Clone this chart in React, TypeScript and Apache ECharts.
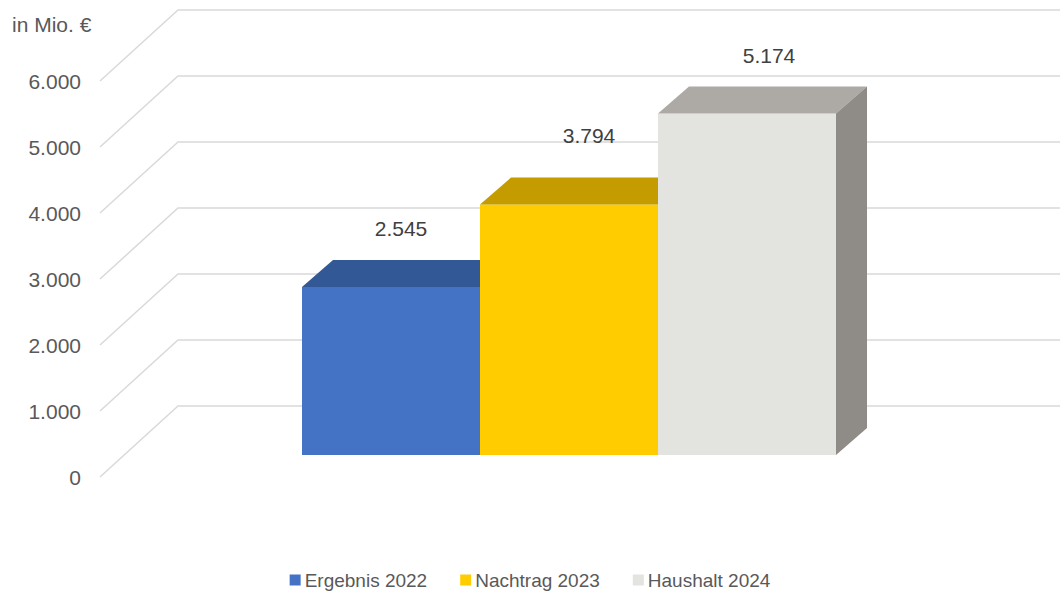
import React, { useEffect, useRef } from "react";
import * as echarts from "echarts";

const categories = ["Haushalt"];
const seriesNames = ["Ergebnis 2022", "Nachtrag 2023", "Haushalt 2024"];
const seriesValues = [2545, 3794, 5174];
const yTicks = [0, 1000, 2000, 3000, 4000, 5000, 6000];
const yMin = 0;
const yMax = 6000;
const yInterval = 1000;
const unitLabel = "in Mio. €";

const frontColors = ["#4472C4", "#FFCC00", "#E3E3DF"];
const topColors = ["#325896", "#C49C00", "#ADA9A5"];
const sideColors = ["#2A4A85", "#A88600", "#8F8B87"];
const labelNudge = [
  [10, -32],
  [20, -42],
  [22, -31],
];

const FONT = "'Liberation Sans', Arial, sans-serif";
const WALL = [78, -71];
const BAR_OFF = [24, -22];
const BAR_DEPTH = [31, -27];
const GROUP_FRAC = 0.6;

const fmt = (v: number) => String(v).replace(/\B(?=(\d{3})+(?!\d))/g, ".");

export default function App() {
  const ref = useRef<HTMLDivElement>(null);
  useEffect(() => {
    if (!ref.current) return;
    const chart = echarts.init(ref.current, undefined, { renderer: "svg" });

    const gridSeries: any = {
      type: "custom",
      name: "__grid",
      z: 1,
      silent: true,
      data: yTicks.map((v) => [0, v]),
      renderItem: (params: any, api: any) => {
        const cs = params.coordSys;
        const y = api.coord([0, api.value(1)])[1];
        const xl = cs.x;
        const xr = cs.x + cs.width;
        return {
          type: "polyline",
          shape: {
            points: [
              [xl, y],
              [xl + WALL[0], y + WALL[1]],
              [xr + WALL[0], y + WALL[1]],
            ],
          },
          style: { stroke: "#D9D9D9", lineWidth: 1.5, fill: null },
          silent: true,
        };
      },
    };

    const barSeries = seriesNames.map((name, i) => ({
      type: "custom",
      name,
      z: 2 + i,
      itemStyle: { color: frontColors[i] },
      data: [[0, seriesValues[i]]],
      renderItem: (params: any, api: any) => {
        const c = api.coord([0, api.value(1)]);
        const base = api.coord([0, 0]);
        const band = api.size([1, 0])[0];
        const groupW = band * GROUP_FRAC;
        const barW = groupW / seriesNames.length;
        const L = c[0] - groupW / 2 + i * barW + BAR_OFF[0];
        const R = L + barW;
        const T = c[1] + BAR_OFF[1];
        const B = base[1] + BAR_OFF[1];
        const dx = BAR_DEPTH[0];
        const dy = BAR_DEPTH[1];
        return {
          type: "group",
          children: [
            {
              type: "rect",
              shape: { x: L, y: T, width: barW, height: B - T },
              style: { fill: frontColors[i] },
            },
            {
              type: "polygon",
              shape: {
                points: [
                  [L, T],
                  [L + dx, T + dy],
                  [R + dx, T + dy],
                  [R, T],
                ],
              },
              style: { fill: topColors[i] },
            },
            {
              type: "polygon",
              shape: {
                points: [
                  [R, T],
                  [R + dx, T + dy],
                  [R + dx, B + dy],
                  [R, B],
                ],
              },
              style: { fill: sideColors[i] },
            },
            {
              type: "text",
              x: (L + R) / 2 + labelNudge[i][0],
              y: T + dy + labelNudge[i][1],
              style: {
                text: fmt(seriesValues[i]),
                fontSize: 21,
                fontFamily: FONT,
                fill: "#404040",
                align: "center",
                verticalAlign: "middle",
                textAlign: "center",
                textVerticalAlign: "middle",
              },
            },
          ],
        };
      },
    }));

    chart.setOption({
      animation: false,
      backgroundColor: "#FFFFFF",
      grid: { left: 100, right: 70, top: 81, bottom: 115, containLabel: false },
      xAxis: {
        type: "category",
        data: categories,
        show: false,
      },
      yAxis: {
        type: "value",
        min: yMin,
        max: yMax,
        interval: yInterval,
        axisLine: { show: false },
        axisTick: { show: false },
        splitLine: { show: false },
        axisLabel: {
          margin: 19,
          fontSize: 21,
          fontFamily: FONT,
          color: "#595959",
          formatter: (v: number) => fmt(v),
        },
      },
      legend: {
        data: seriesNames,
        left: "center",
        top: 569,
        padding: 0,
        icon: "rect",
        itemWidth: 11,
        itemHeight: 11,
        itemGap: 33,
        textStyle: { fontSize: 19, lineHeight: 22, fontFamily: FONT, color: "#595959", padding: [0, 0, 0, -1] },
      },
      graphic: [
        {
          type: "text",
          left: 12,
          top: 14,
          style: { text: unitLabel, fontSize: 21, fontFamily: FONT, fill: "#595959" },
        },
      ],
      series: [gridSeries, ...barSeries],
    });
    return () => chart.dispose();
  }, []);

  return (
    <div
      ref={ref}
      style={{ position: "fixed", left: 0, top: 0, width: 1060, height: 592, background: "#fff" }}
    />
  );
}
